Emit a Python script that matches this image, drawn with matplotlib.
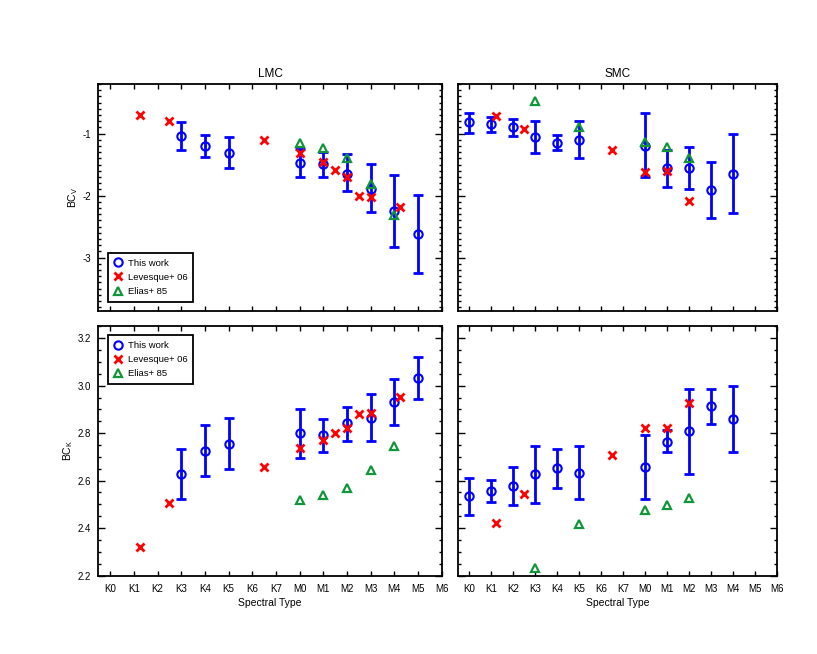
import matplotlib
matplotlib.use("Agg")
import matplotlib.pyplot as plt
from matplotlib.ticker import MultipleLocator, FixedLocator, FormatStrFormatter
from matplotlib.lines import Line2D
import numpy as np

plt.rcParams['font.family'] = ['Liberation Sans', 'DejaVu Sans']
plt.rcParams['axes.unicode_minus'] = False

spectral_labels = ['K0', 'K1', 'K2', 'K3', 'K4', 'K5', 'K6', 'K7',
                   'M0', 'M1', 'M2', 'M3', 'M4', 'M5', 'M6']

# ---- LMC, BC_V ----
lmc_tw_x = [3, 4, 5, 8, 9, 10, 11, 12, 13]
lmc_tw_bcv = [-1.04, -1.20, -1.31, -1.48, -1.49, -1.65, -1.89, -2.25, -2.62]
lmc_tw_bcv_hi = [-0.81, -1.03, -1.05, -1.24, -1.30, -1.33, -1.49, -1.66, -1.99]
lmc_tw_bcv_lo = [-1.27, -1.38, -1.55, -1.70, -1.70, -1.93, -2.27, -2.83, -3.25]
lmc_lev_x = [1.25, 2.5, 6.5, 8, 9, 9.5, 10, 10.5, 11, 12.25]
lmc_lev_bcv = [-0.70, -0.80, -1.10, -1.31, -1.45, -1.59, -1.70, -2.00, -2.02, -2.18]
lmc_eli_x = [8, 9, 10, 11, 12]
lmc_eli_bcv = [-1.15, -1.23, -1.39, -1.82, -2.31]

# ---- LMC, BC_K ----
lmc_tw_bck = [2.628, 2.725, 2.756, 2.799, 2.792, 2.841, 2.863, 2.931, 3.032]
lmc_tw_bck_hi = [2.735, 2.834, 2.866, 2.901, 2.861, 2.911, 2.965, 3.027, 3.123]
lmc_tw_bck_lo = [2.521, 2.618, 2.648, 2.697, 2.721, 2.766, 2.768, 2.835, 2.944]
lmc_lev_bck = [2.321, 2.507, 2.656, 2.739, 2.770, 2.801, 2.821, 2.882, 2.887, 2.952]
lmc_eli_bck = [2.517, 2.538, 2.569, 2.646, 2.748]

# ---- SMC, BC_V ----
smc_tw_x = [0, 1, 2, 3, 4, 5, 8, 9, 10, 11, 12]
smc_tw_bcv = [-0.82, -0.85, -0.90, -1.05, -1.15, -1.10, -1.20, -1.56, -1.56, -1.91, -1.65]
smc_tw_bcv_hi = [-0.66, -0.74, -0.77, -0.80, -1.02, -0.80, -0.66, -1.27, -1.22, -1.45, -1.01]
smc_tw_bcv_lo = [-0.99, -0.97, -1.04, -1.31, -1.27, -1.40, -1.70, -1.86, -1.90, -2.36, -2.28]
smc_lev_x = [1.25, 2.5, 6.5, 8, 9, 10]
smc_lev_bcv = [-0.72, -0.93, -1.27, -1.62, -1.61, -2.08]
smc_eli_x = [3, 5, 8, 9, 10]
smc_eli_bcv = [-0.48, -0.89, -1.14, -1.22, -1.39]

# ---- SMC, BC_K ----
smc_tw_bck = [2.534, 2.556, 2.576, 2.627, 2.652, 2.634, 2.656, 2.765, 2.808, 2.913, 2.859]
smc_tw_bck_hi = [2.610, 2.604, 2.658, 2.748, 2.735, 2.745, 2.792, 2.813, 2.986, 2.986, 3.000]
smc_tw_bck_lo = [2.455, 2.508, 2.496, 2.507, 2.569, 2.524, 2.521, 2.720, 2.630, 2.838, 2.720]
smc_lev_bck = [2.420, 2.545, 2.707, 2.824, 2.824, 2.927]
smc_eli_bck = [2.230, 2.417, 2.477, 2.499, 2.528]

legend_labels = ['This work', 'Levesque+ 06', 'Elias+ 85']

BLUE = '#0000ff'
RED = '#ff0000'
GREEN = '#12963a'

fig = plt.figure(figsize=(8.17, 6.54), dpi=100)
W, H = 817, 654
def ax_at(x0, x1, ytop, ybot):
    return fig.add_axes([x0 / W, 1 - ybot / H, (x1 - x0) / W, (ybot - ytop) / H])

ax_tl = ax_at(98.3, 441.7, 84, 311)
ax_tr = ax_at(458.0, 776.7, 84, 311)
ax_bl = ax_at(98.3, 441.7, 326, 575.5)
ax_br = ax_at(458.0, 776.7, 326, 575.5)

circ_kw = dict(marker='o', mfc='none', mec=BLUE, ms=6, mew=1.5, ls='none')
x_kw = dict(marker='x', color=RED, ms=5.5, mew=2.0, ls='none')
tri_kw = dict(marker='^', mfc='none', mec=GREEN, ms=6, mew=1.6, ls='none')


def draw(ax, twx, y, hi, lo, levx, levy, elix, eliy):
    y = np.array(y); hi = np.array(hi); lo = np.array(lo)
    ax.errorbar(twx, y, yerr=[y - lo, hi - y], fmt='none', ecolor=BLUE,
                elinewidth=2.0, capsize=3.3, capthick=2.0, zorder=3)
    ax.plot(twx, y, zorder=3.5, **circ_kw)
    ax.plot(levx, levy, zorder=4, **x_kw)
    ax.plot(elix, eliy, zorder=5, **tri_kw)


draw(ax_tl, lmc_tw_x, lmc_tw_bcv, lmc_tw_bcv_hi, lmc_tw_bcv_lo,
     lmc_lev_x, lmc_lev_bcv, lmc_eli_x, lmc_eli_bcv)
draw(ax_tr, smc_tw_x, smc_tw_bcv, smc_tw_bcv_hi, smc_tw_bcv_lo,
     smc_lev_x, smc_lev_bcv, smc_eli_x, smc_eli_bcv)
draw(ax_bl, lmc_tw_x, lmc_tw_bck, lmc_tw_bck_hi, lmc_tw_bck_lo,
     lmc_lev_x, lmc_lev_bck, lmc_eli_x, lmc_eli_bck)
draw(ax_br, smc_tw_x, smc_tw_bck, smc_tw_bck_hi, smc_tw_bck_lo,
     smc_lev_x, smc_lev_bck, smc_eli_x, smc_eli_bck)

for ax in (ax_tl, ax_tr, ax_bl, ax_br):
    ax.set_xlim(-0.5, 14)
    ax.xaxis.set_major_locator(FixedLocator(range(len(spectral_labels))))
    for s in ax.spines.values():
        s.set_linewidth(1.3)
    ax.tick_params(which='both', direction='in', top=True, right=True,
                   width=1.0, labelsize=7, pad=5)
    ax.tick_params(which='major', length=5)
    ax.tick_params(which='minor', length=2.5)
    ax.tick_params(axis='x', which='major', length=3.5, pad=6)

for ax in (ax_tl, ax_tr):
    ax.set_ylim(-3.86, -0.2)
    ax.yaxis.set_major_locator(MultipleLocator(1))
    ax.yaxis.set_minor_locator(MultipleLocator(0.1))
    ax.set_xticklabels([])
for ax in (ax_bl, ax_br):
    ax.set_ylim(2.2, 3.252)
    ax.yaxis.set_major_locator(MultipleLocator(0.2))
    ax.yaxis.set_minor_locator(MultipleLocator(0.05))
    ax.yaxis.set_major_formatter(FormatStrFormatter('%.1f'))
    ax.set_xticklabels(spectral_labels)
    ax.set_xlabel('Spectral Type', fontsize=7.5, labelpad=3)
for ax in (ax_tr, ax_br):
    ax.set_yticklabels([])

ax_tl.yaxis.set_major_formatter(FormatStrFormatter('%d'))
ax_tl.set_ylabel(r'BC$_\mathregular{V}$', fontsize=7.5, labelpad=2)
ax_bl.set_ylabel(r'BC$_\mathregular{K}$', fontsize=7.5, labelpad=2)
ax_tl.set_title('LMC', fontsize=8.5, pad=5)
ax_tr.set_title('SMC', fontsize=8.5, pad=5)

handles = [Line2D([], [], **circ_kw), Line2D([], [], **x_kw), Line2D([], [], **tri_kw)]
leg_kw = dict(fontsize=6.8, frameon=True, fancybox=False, edgecolor='black',
              handlelength=1.0, handletextpad=0.5, borderpad=0.6,
              labelspacing=0.55, borderaxespad=1.0)
lg1 = ax_tl.legend(handles, legend_labels, loc='lower left', **leg_kw)
lg2 = ax_bl.legend(handles, legend_labels, loc='upper left', **leg_kw)
for lg in (lg1, lg2):
    lg.get_frame().set_linewidth(1.3)
    lg.get_frame().set_alpha(1)

fig.savefig('out.png', dpi=100)
